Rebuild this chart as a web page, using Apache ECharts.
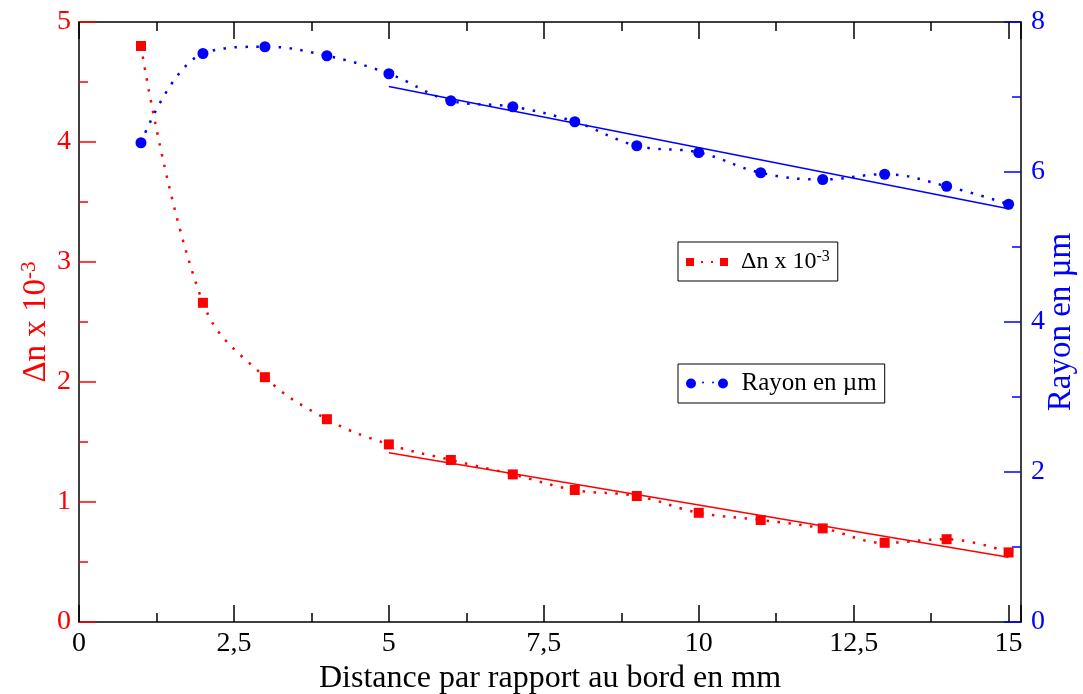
<!DOCTYPE html>
<html><head><meta charset="utf-8">
<script src="https://cdn.jsdelivr.net/npm/echarts@6/dist/echarts.min.js"></script>
<style>html,body{margin:0;padding:0;background:#fff;overflow:hidden}#c{width:1083px;height:694px}</style>
</head><body><div id="c"></div>
<script>
const distances = [1,2,3,4,5,6,7,8,9,10,11,12,13,14,15];
const deltaN = [4.80,2.66,2.04,1.69,1.48,1.35,1.23,1.10,1.05,0.91,0.85,0.78,0.66,0.69,0.58];
const rayon = [6.39,7.58,7.67,7.55,7.31,6.95,6.87,6.67,6.35,6.26,5.99,5.90,5.97,5.81,5.57];
const deltaNFitX = [5,15];
const deltaNFitY = [1.41,0.54];
const rayonFitX = [5,15];
const rayonFitY = [7.14,5.51];
const xTicks = [0,2.5,5,7.5,10,12.5,15];

const FONT = '"Liberation Serif", "DejaVu Serif", serif';
const RED = '#ff0000', BLUE = '#0000ff';
const pair = (xs, ys) => xs.map((x,i)=>[x, ys[i]]);

const chart = echarts.init(document.getElementById('c'), null, {renderer:'canvas'});
const xLabelFmt = v => xTicks.indexOf(v) >= 0 ? String(v).replace('.', ',') : '';
chart.setOption({
  animation:false,
  backgroundColor:'#fff',
  grid:{left:79, top:22, right:62, bottom:72, containLabel:false, outerBoundsMode:'none'},
  legend:[
    {data:['dn'], left:678, top:242, orient:'horizontal', backgroundColor:'#fff',
     borderColor:'#000', borderWidth:1, padding:[7,8,7,8], itemWidth:42, itemHeight:9,
     icon:'path://M0,0h4v4h-4zM7.5,1.5h1v1h-1zM12.5,1.5h1v1h-1zM17,0h4v4h-4z',
     formatter:()=>'{a|Δn x 10}{s|-3}',
     textStyle:{fontFamily:FONT, color:'#000', rich:{
       a:{fontFamily:FONT, fontSize:24, color:'#000', padding:[0,0,0,8]},
       s:{fontFamily:FONT, fontSize:16, color:'#000', verticalAlign:'top', padding:[0,0,10,0]}}}},
    {data:['ray'], left:678, top:364, orient:'horizontal', backgroundColor:'#fff',
     borderColor:'#000', borderWidth:1, padding:[7,8,7,8], itemWidth:43, itemHeight:10,
     icon:'path://M0,2.5a2.5,2.5 0 1,0 5,0a2.5,2.5 0 1,0 -5,0zM8,2a0.5,0.5 0 1,0 1,0a0.5,0.5 0 1,0 -1,0zM13,2a0.5,0.5 0 1,0 1,0a0.5,0.5 0 1,0 -1,0zM16,2.5a2.5,2.5 0 1,0 5,0a2.5,2.5 0 1,0 -5,0z',
     formatter:()=>'{a|Rayon en µm}',
     textStyle:{fontFamily:FONT, color:'#000', rich:{
       a:{fontFamily:FONT, fontSize:25, color:'#000', padding:[0,0,0,8]}}}}
  ],
  xAxis:[
    {type:'value', min:0, max:15.2, interval:2.5, position:'bottom',
     name:'Distance par rapport au bord en mm', nameLocation:'middle', nameGap:40,
     nameTextStyle:{fontFamily:FONT, fontSize:32, color:'#000'},
     axisLine:{show:true, lineStyle:{color:'#000', width:1.5}},
     axisTick:{show:true, inside:true, length:17, lineStyle:{color:'#000', width:1.5}},
     minorTick:{show:true, splitNumber:2, length:9, lineStyle:{color:'#000', width:1.5}},
     axisLabel:{formatter:xLabelFmt, fontFamily:FONT, fontSize:28, color:'#000', margin:8, showMaxLabel:false},
     splitLine:{show:false}},
    {type:'value', min:0, max:15.2, interval:2.5, position:'top',
     axisLine:{show:true, onZero:false, lineStyle:{color:'#000', width:1.5}},
     axisTick:{show:true, inside:true, length:17, lineStyle:{color:'#000', width:1.5}},
     minorTick:{show:true, splitNumber:2, length:9, lineStyle:{color:'#000', width:1.5}},
     axisLabel:{show:false}, splitLine:{show:false}}
  ],
  yAxis:[
    {type:'value', min:0, max:5, interval:1, position:'left',
     name:'{a|Δn x 10}{s|-3}', nameLocation:'middle', nameRotate:90, nameGap:25, nameMoveOverlap:false,
     nameTextStyle:{fontFamily:FONT, fontSize:33, color:RED, rich:{
       a:{fontFamily:FONT, fontSize:33, color:RED},
       s:{fontFamily:FONT, fontSize:21, color:RED, verticalAlign:'top', padding:[0,0,14,0]}}},
     axisLine:{show:true, onZero:false, lineStyle:{color:'#000', width:1.5}},
     axisTick:{show:true, inside:true, length:17, lineStyle:{color:RED, width:1.5}},
     minorTick:{show:true, splitNumber:2, length:9, lineStyle:{color:RED, width:1.5}},
     axisLabel:{fontFamily:FONT, fontSize:28, color:RED, margin:8},
     splitLine:{show:false}},
    {type:'value', min:0, max:8, interval:2, position:'right',
     name:'Rayon en µm', nameLocation:'middle', nameRotate:90, nameGap:24, nameMoveOverlap:false,
     nameTextStyle:{fontFamily:FONT, fontSize:33, color:BLUE},
     axisLine:{show:true, onZero:false, lineStyle:{color:'#000', width:1.5}},
     axisTick:{show:true, inside:true, length:17, lineStyle:{color:BLUE, width:1.5}},
     minorTick:{show:true, splitNumber:2, length:9, lineStyle:{color:BLUE, width:1.5}},
     axisLabel:{fontFamily:FONT, fontSize:28, color:BLUE, margin:10},
     splitLine:{show:false}}
  ],
  series:[
    {name:'dn', type:'line', xAxisIndex:0, yAxisIndex:0, data:pair(distances, deltaN),
     smooth:0.4, symbol:'rect', symbolSize:10, itemStyle:{color:RED},
     lineStyle:{color:RED, width:2.5, type:[2.5,8.5]}, z:3},
    {name:'ray', type:'line', xAxisIndex:0, yAxisIndex:1, data:pair(distances, rayon),
     smooth:0.4, symbol:'circle', symbolSize:11, itemStyle:{color:BLUE},
     lineStyle:{color:BLUE, width:2.5, type:[2.5,8.5]}, z:3},
    {name:'dnFit', type:'line', xAxisIndex:0, yAxisIndex:0, data:pair(deltaNFitX, deltaNFitY),
     symbol:'none', lineStyle:{color:RED, width:1.5}, z:2},
    {name:'rayFit', type:'line', xAxisIndex:0, yAxisIndex:1, data:pair(rayonFitX, rayonFitY),
     symbol:'none', lineStyle:{color:BLUE, width:1.5}, z:2}
  ]
});
</script></body></html>
